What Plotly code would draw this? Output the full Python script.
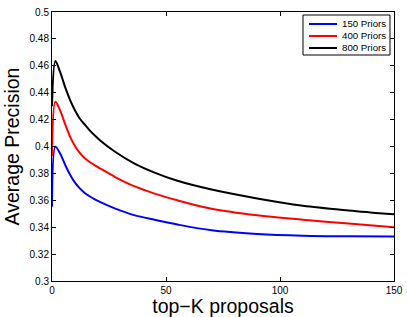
import plotly.graph_objects as go

k_values = [0, 1.5, 3.5, 6, 8, 10, 12, 14.5, 16.5, 19, 21, 27.5, 36, 45, 55, 70, 90, 110, 130, 150]
ap_150 = [0.3553, 0.3999, 0.3949, 0.3855, 0.3788, 0.3733, 0.3692, 0.3652, 0.3630, 0.3605, 0.3588,
          0.3540, 0.3490, 0.3455, 0.3420, 0.3377, 0.3350, 0.3337, 0.3332, 0.3330]
ap_400 = [0.3930, 0.4333, 0.4271, 0.4155, 0.4070, 0.4006, 0.3956, 0.3910, 0.3885, 0.3858, 0.3838,
          0.3775, 0.3705, 0.3650, 0.3600, 0.3537, 0.3488, 0.3456, 0.3427, 0.3400]
ap_800 = [0.4300, 0.4636, 0.4556, 0.4430, 0.4343, 0.4271, 0.4212, 0.4160, 0.4120, 0.4078, 0.4047,
          0.3963, 0.3875, 0.3806, 0.3745, 0.3680, 0.3614, 0.3560, 0.3525, 0.3496]

series_names = ["150 Priors", "400 Priors", "800 Priors"]
series_values = [ap_150, ap_400, ap_800]
series_colors = ["#0000ff", "#ff0000", "#000000"]

x_ticks = [0, 50, 100, 150]
y_ticks = [0.3, 0.32, 0.34, 0.36, 0.38, 0.4, 0.42, 0.44, 0.46, 0.48, 0.5]
y_tick_labels = ["0.3", "0.32", "0.34", "0.36", "0.38", "0.4", "0.42", "0.44", "0.46", "0.48", "0.5"]

fig = go.Figure()
for name, vals, col in zip(series_names, series_values, series_colors):
    fig.add_trace(go.Scatter(x=k_values, y=vals, mode="lines", name=name, showlegend=False,
                             line=dict(color=col, width=2, shape="spline", smoothing=0.9)))

# compact MATLAB-style legend box (paper coordinates)
fig.add_shape(type="rect", xref="paper", yref="paper", x0=0.7339, x1=0.9883, y0=0.8401, y1=0.9888,
              line=dict(color="black", width=1), fillcolor="white", layer="above")
row_y = [0.9554, 0.9108, 0.8662]
for name, col, ry in zip(series_names, series_colors, row_y):
    fig.add_shape(type="line", xref="paper", yref="paper", x0=0.7515, x1=0.8333, y0=ry, y1=ry,
                  line=dict(color=col, width=2), layer="above")
    fig.add_annotation(xref="paper", yref="paper", x=0.8421, y=ry, text=name, showarrow=False,
                       xanchor="left", yanchor="middle", font=dict(size=9.7, color="black"))

axis_common = dict(showline=True, linecolor="black", linewidth=1, mirror="allticks",
                   ticks="inside", ticklen=4, tickcolor="black", showgrid=False, zeroline=False,
                   tickfont=dict(size=10, color="black"), automargin=False)

fig.update_layout(
    width=407, height=317,
    margin=dict(l=52, r=13, t=12, b=36),
    paper_bgcolor="white", plot_bgcolor="white",
    font=dict(family="Liberation Sans, Arial, sans-serif", color="black"),
    xaxis=dict(range=[0, 150], tickvals=x_ticks, ticktext=[str(v) for v in x_ticks],
               title=dict(text="top\u2212K proposals", font=dict(size=19.5), standoff=0), **axis_common),
    yaxis=dict(range=[0.3, 0.5], tickvals=y_ticks, ticktext=y_tick_labels,
               title=dict(text="Average Precision", font=dict(size=19.5), standoff=4), **axis_common),
    showlegend=False,
)

fig.write_html("out.html", config={"displayModeBar": False},
               post_script="document.body.style.margin='0px';document.body.style.overflow='hidden';")
